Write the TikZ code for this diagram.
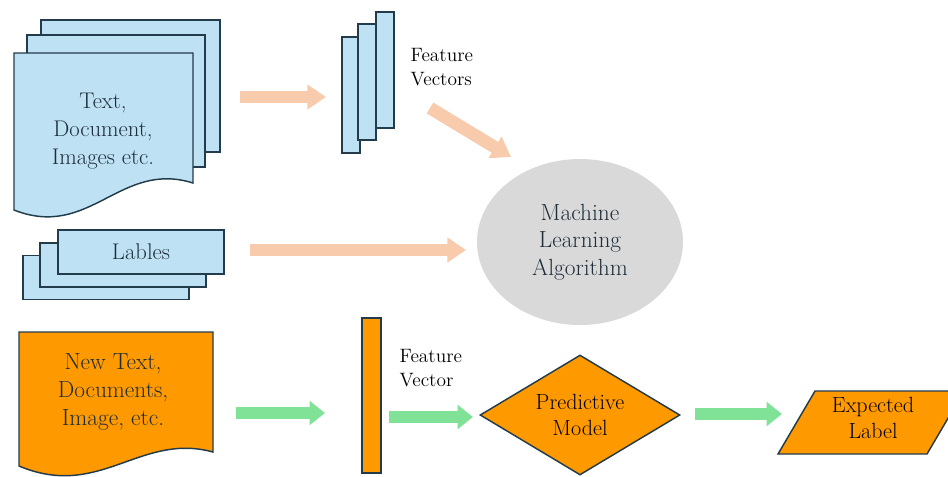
\documentclass[tikz,border=0pt]{standalone}
\usepackage{fontspec}
\usetikzlibrary{arrows.meta,positioning,shapes.geometric}
\definecolor{paleblue}{RGB}{190,225,243}
\definecolor{slateline}{RGB}{35,60,75}
\definecolor{inkdark}{RGB}{30,45,58}
\definecolor{peach}{RGB}{248,203,173}
\definecolor{mint}{RGB}{128,226,150}
\definecolor{amber}{RGB}{255,153,0}
\definecolor{mlgray}{RGB}{217,217,217}

\begin{document}
\begin{tikzpicture}[x=0.75pt, y=-0.75pt,
  page/.style={draw=slateline, line width=1.1pt, fill=paleblue},
  vbar/.style={page, minimum width=13.5pt, minimum height=87pt, inner sep=0pt},
  card/.style={page, minimum width=124.5pt, minimum height=33pt, inner sep=0pt},
  bigtxt/.style={text=inkdark, align=center, font=\fontsize{17}{20.8}\selectfont},
  smalltxt/.style={align=left, anchor=west, font=\fontsize{14.5}{17.5}\selectfont},
  peacharr/.style={-{Triangle[length=14pt,width=18pt]}, line width=9.5pt, peach},
  mintarr/.style={-{Triangle[length=11.5pt,width=17.5pt]}, line width=9.5pt, mint}
]
\useasboundingbox (0,0) rectangle (948,476);
\clip (0,0) rectangle (948,476);

% training documents
\draw[page] (41,20) rectangle (220,152);
\draw[page] (27,35) rectangle (205,167);
\draw[page] (14,53) -- (193,53) -- (193,183) .. controls (120,160) and (90,240) .. (14,210) -- cycle;
\node[bigtxt] (docs) at (103,131) {Text,\\Document,\\Images etc.};

% feature vectors
\node[vbar] (fv1) at (351,95) {};
\node[vbar] (fv2) at (367,82) {};
\node[vbar] (fv3) at (385,70) {};
\node[smalltxt] (fvtxt) at (406,67) {Feature\\Vectors};

% labels
\node[card] (lab1) at (106,277.5) {};
\node[card] (lab2) at (123,265) {};
\node[card, bigtxt] (lab3) at (141,252) {Lables};

% learning
\node[ellipse, fill=mlgray, minimum width=154.5pt, minimum height=124.5pt, bigtxt, font=\fontsize{17.5}{20.5}\selectfont] (ml) at (580,242) {Machine\\Learning\\Algorithm};

% prediction
\draw[draw=slateline, line width=1.1pt, fill=amber] (19,332) -- (213,332) -- (213,452) .. controls (140,432) and (100,500) .. (19,466) -- cycle;
\node[bigtxt, font=\fontsize{17.5}{20.8}\selectfont] (newdoc) at (113,392) {New Text,\\Documents,\\Image, etc.};
\node[draw=slateline, line width=1.1pt, fill=amber, minimum width=14.25pt, minimum height=116.25pt, inner sep=0pt] (fvnew) at (371.5,395.5) {};
\node[smalltxt] (fvnewtxt) at (395,368) {Feature\\Vector};
\node[diamond, aspect=1.67, draw=slateline, line width=1.1pt, fill=amber, minimum width=150pt, minimum height=90pt, inner sep=0pt, align=center, font=\fontsize{16.5}{20}\selectfont] (model) at (580,415) {Predictive\\Model};
\draw[draw=slateline, line width=1.1pt, fill=amber] (778,454) -- (815,391) -- (964,391) -- (927,454) -- cycle;
\node[align=center, font=\fontsize{16.5}{19}\selectfont] (outlabel) at (873,418) {Expected\\Label};

% arrows
\coordinate (a1s) at (240,97);   \coordinate (a1e) at (326,97);
\coordinate (a2s) at (430,108);  \coordinate (a2e) at (511,157);
\coordinate (a3s) at (250,250);  \coordinate (a3e) at (466,250);
\coordinate (g1s) at (236,413);  \coordinate (g1e) at (325,413);
\coordinate (g2s) at (389,417);  \coordinate (g2e) at (473,417);
\coordinate (g3s) at (695,414);  \coordinate (g3e) at (782,414);
\draw[peacharr] (a1s) -- (a1e);
\draw[peacharr] (a2s) -- (a2e);
\draw[peacharr] (a3s) -- (a3e);
\draw[mintarr] (g1s) -- (g1e);
\draw[mintarr] (g2s) -- (g2e);
\draw[mintarr] (g3s) -- (g3e);
\end{tikzpicture}
\end{document}
